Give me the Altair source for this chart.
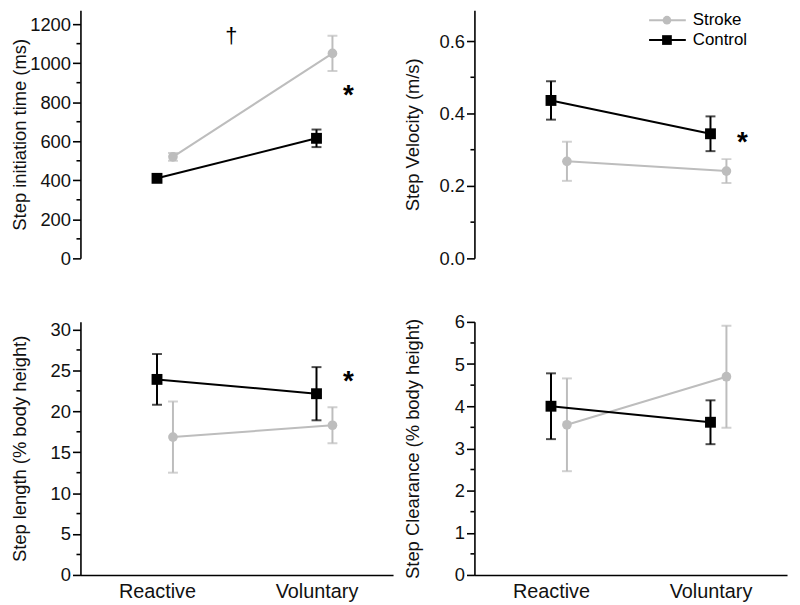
import altair as alt
import pandas as pd

conditions = ["Reactive", "Voluntary"]
groups = ["Stroke", "Control"]
group_colors = ["#bdbdbd", "#000000"]
group_shapes = ["circle", "square"]
group_sizes = [95, 120]

# Step initiation time (ms)
init_stroke = [520, 1050]
init_stroke_err = [20, 90]
init_control = [410, 615]
init_control_err = [12, 45]

# Step velocity (m/s)
vel_stroke = [0.268, 0.241]
vel_stroke_err = [0.054, 0.033]
vel_control = [0.436, 0.344]
vel_control_err = [0.053, 0.048]

# Step length (% body height)
len_stroke = [16.85, 18.3]
len_stroke_err = [4.35, 2.2]
len_control = [23.9, 22.15]
len_control_err = [3.1, 3.25]

# Step clearance (% body height)
clr_stroke = [3.56, 4.70]
clr_stroke_err = [1.1, 1.21]
clr_control = [4.0, 3.62]
clr_control_err = [0.78, 0.52]

titles = [
    "Step initiation time (ms)",
    "Step Velocity (m/s)",
    "Step length (% body height)",
    "Step Clearance (% body height)",
]
y_domains = [[0, 1271], [0, 0.685], [0, 30.93], [0, 6]]
y_major = [
    [0, 200, 400, 600, 800, 1000, 1200],
    [0, 0.2, 0.4, 0.6],
    [0, 5, 10, 15, 20, 25, 30],
    [0, 1, 2, 3, 4, 5, 6],
]
y_minor = [
    [100, 300, 500, 700, 900, 1100],
    [0.1, 0.3, 0.5],
    [2.5, 7.5, 12.5, 17.5, 22.5, 27.5],
    [0.5, 1.5, 2.5, 3.5, 4.5, 5.5],
]
y_formats = ["d", ".1f", "d", "d"]
y_extent = [51, 52, 51, 52]

# significance markers
star_panels = [0, 1, 2]
star_x = [2.2, 2.2, 2.2]
star_y = [854, 0.329, 24.0]
dagger_x = [1.466]
dagger_y = [1140]

FONT = "Liberation Sans"
X_SHIFT = {"Stroke": 0.1, "Control": 0.0}
W, H_TOP, H_BOT = 315, 250, 255


def group_df(g, means, errs):
    rows = []
    for k, c in enumerate(conditions):
        rows.append(dict(group=g, cond=c, x=k + 1 + X_SHIFT[g], mean=means[k],
                         lo=means[k] - errs[k], hi=means[k] + errs[k]))
    return pd.DataFrame(rows)


def make_panel(i, stroke, stroke_err, control, control_err, show_x, height):
    y_axis = alt.Axis(
        values=y_major[i],
        format=y_formats[i],
        tickSize=8,
        title=titles[i],
        labelFontSize=18.5,
        titleFontSize=18.5,
        labelPadding=2,
        titlePadding=0,
        minExtent=y_extent[i],
        maxExtent=y_extent[i],
    )
    y_scale = alt.Scale(domain=y_domains[i], nice=False, zero=False)
    if show_x:
        expr = " : ".join([f"datum.value == {k+1} ? '{c}'" for k, c in enumerate(conditions[:-1])]) + f" : '{conditions[-1]}'"
        x_axis = alt.Axis(values=[1, 2], labelExpr=expr, ticks=False, title=None,
                          labelFontSize=20, labelPadding=7)
    else:
        x_axis = None
    x_scale = alt.Scale(domain=[0.52, 2.48], nice=False, zero=False)
    X = alt.X("x:Q", scale=x_scale, axis=x_axis)

    def Yf(field):
        return alt.Y(field, scale=y_scale, axis=y_axis)

    layers = []
    # minor ticks on the y axis
    mdf = pd.DataFrame({"v": y_minor[i]})
    layers.append(alt.Chart(mdf).mark_rule(color="black", strokeWidth=1.6).encode(
        x=alt.value(-4), x2=alt.value(0), y=Yf("v:Q")))

    data_sets = [(stroke, stroke_err), (control, control_err)]
    for gi, g in enumerate(groups):
        df = group_df(g, *data_sets[gi])
        col = group_colors[gi]
        base = alt.Chart(df)
        layers.append(base.mark_rule(color=col, strokeWidth=2).encode(
            x=X, y=Yf("lo:Q"), y2="hi:Q"))
        layers.append(base.transform_fold(["lo", "hi"], as_=["k", "v"]).mark_tick(
            color=col, orient="horizontal", size=10, thickness=2).encode(
            x=X, y=Yf("v:Q")))
        layers.append(base.mark_line(color=col, strokeWidth=2).encode(x=X, y=Yf("mean:Q")))
        layers.append(base.mark_point(color=col, shape=group_shapes[gi], filled=True,
                                      opacity=1, size=group_sizes[gi]).encode(
            x=X, y=Yf("mean:Q")))

    # significance markers
    sx = [star_x[j] for j, p in enumerate(star_panels) if p == i]
    sy = [star_y[j] for j, p in enumerate(star_panels) if p == i]
    if sx:
        sdf = pd.DataFrame({"x": sx, "y": sy, "t": ["*"] * len(sx)})
        layers.append(alt.Chart(sdf).mark_text(fontSize=28, fontWeight="bold", font=FONT,
                                                dy=4, color="black").encode(
            x=X, y=Yf("y:Q"), text="t:N"))
    if i == 0:
        ddf = pd.DataFrame({"x": dagger_x, "y": dagger_y, "t": ["†"] * len(dagger_x)})
        layers.append(alt.Chart(ddf).mark_text(fontSize=22, font=FONT, color="black").encode(
            x=X, y=Yf("y:Q"), text="t:N"))

    # legend in the velocity panel
    if i == 1:
        leg_y = [10, 30]
        for gi, g in enumerate(groups):
            one = alt.Chart(pd.DataFrame({"label": [g]}))
            col = group_colors[gi]
            layers.append(one.mark_rule(color=col, strokeWidth=2).encode(
                x=alt.value(176), x2=alt.value(213), y=alt.value(leg_y[gi])))
            layers.append(one.mark_point(color=col, shape=group_shapes[gi], filled=True,
                                         opacity=1, size=group_sizes[gi] * 0.8).encode(
                x=alt.value(194), y=alt.value(leg_y[gi])))
            layers.append(one.mark_text(align="left", baseline="middle", fontSize=17,
                                        font=FONT, color="black").encode(
                x=alt.value(220), y=alt.value(leg_y[gi]), text="label:N"))

    return alt.layer(*layers).properties(width=W, height=height)


p1 = make_panel(0, init_stroke, init_stroke_err, init_control, init_control_err, False, H_TOP)
p2 = make_panel(1, vel_stroke, vel_stroke_err, vel_control, vel_control_err, False, H_TOP)
p3 = make_panel(2, len_stroke, len_stroke_err, len_control, len_control_err, True, H_BOT)
p4 = make_panel(3, clr_stroke, clr_stroke_err, clr_control, clr_control_err, True, H_BOT)

chart = alt.concat(p1, p2, p3, p4, columns=2, spacing={"row": 64, "column": 82},
                   bounds="flush").properties(
    padding={"left": 3, "top": 0, "right": 5, "bottom": 0},
    background="white",
).configure_view(stroke=None).configure_axis(
    grid=False,
    domainColor="black",
    domainWidth=1.6,
    tickColor="black",
    tickWidth=1.6,
    labelColor="#111111",
    titleColor="#111111",
    labelFont=FONT,
    titleFont=FONT,
    titleFontWeight="normal",
)

chart.save("out.html", embed_options={"renderer": "svg", "actions": False})
